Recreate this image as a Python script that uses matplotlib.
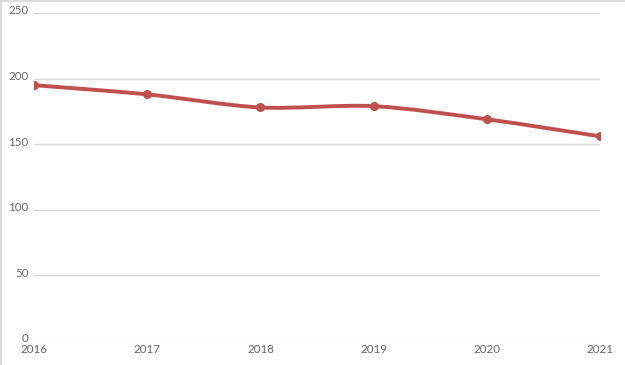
import numpy as np
import matplotlib
matplotlib.use("Agg")
from matplotlib import pyplot as plt
from matplotlib.path import Path
from matplotlib.patches import PathPatch
from matplotlib.lines import Line2D
import matplotlib.transforms as mtransforms

years = ["2016", "2017", "2018", "2019", "2020", "2021"]
values = [195, 188, 178, 179, 169, 156]
y_ticks = [0, 50, 100, 150, 200, 250]

line_color = "#c0504d"
text_color = "#666666"
grid_color = "#d9d9d9"

plt.rcParams["font.family"] = ["Lato", "DejaVu Sans"]

fig = plt.figure(figsize=(6.25, 3.65), dpi=100)
ax = fig.add_axes([34 / 625, 1 - 341 / 365, 566 / 625, 328 / 365])

x = np.arange(len(years))
y = np.array(values, dtype=float)

# smooth curve through points (cardinal spline as bezier segments)
tension = 0.3
verts = [(x[0], y[0])]
codes = [Path.MOVETO]
for i in range(len(x) - 1):
    x0, y0 = (x[i - 1], y[i - 1]) if i > 0 else (x[i], y[i])
    x3, y3 = (x[i + 2], y[i + 2]) if i + 2 < len(x) else (x[i + 1], y[i + 1])
    c1 = (x[i] + (x[i + 1] - x0) * tension / 2, y[i] + (y[i + 1] - y0) * tension / 2)
    c2 = (x[i + 1] - (x3 - x[i]) * tension / 2, y[i + 1] - (y3 - y[i]) * tension / 2)
    verts += [c1, c2, (x[i + 1], y[i + 1])]
    codes += [Path.CURVE4] * 3
ax.add_patch(PathPatch(Path(verts, codes), fill=False, edgecolor=line_color,
                       linewidth=2.8, capstyle="round", zorder=3))
ax.plot(x, y, "o", color=line_color, markersize=5.5, zorder=4)

ax.set_xlim(0, len(years) - 1)
ax.set_ylim(0, 250)
ax.set_yticks(y_ticks)
ax.set_xticks(x)
ax.set_xticklabels(years)
ax.grid(axis="y", color=grid_color, linewidth=1)
ax.set_axisbelow(True)
for s in ax.spines.values():
    s.set_visible(False)
ax.tick_params(length=0, labelsize=8.3, labelcolor=text_color)
ax.tick_params(axis="y", pad=4)
ax.tick_params(axis="x", pad=2)
shift = mtransforms.ScaledTranslation(0, 2 / 100, fig.dpi_scale_trans)
for lab in ax.get_yticklabels():
    lab.set_verticalalignment("center")
    lab.set_transform(lab.get_transform() + shift)

# light border on the left and top of the figure
fig.add_artist(Line2D([0.0008, 0.0008], [0, 1], color="#d6d6d6", linewidth=1.2,
                      transform=fig.transFigure))
fig.add_artist(Line2D([0, 1], [0.9986, 0.9986], color="#d6d6d6", linewidth=1.2,
                      transform=fig.transFigure))

fig.savefig("out.png", dpi=100)
